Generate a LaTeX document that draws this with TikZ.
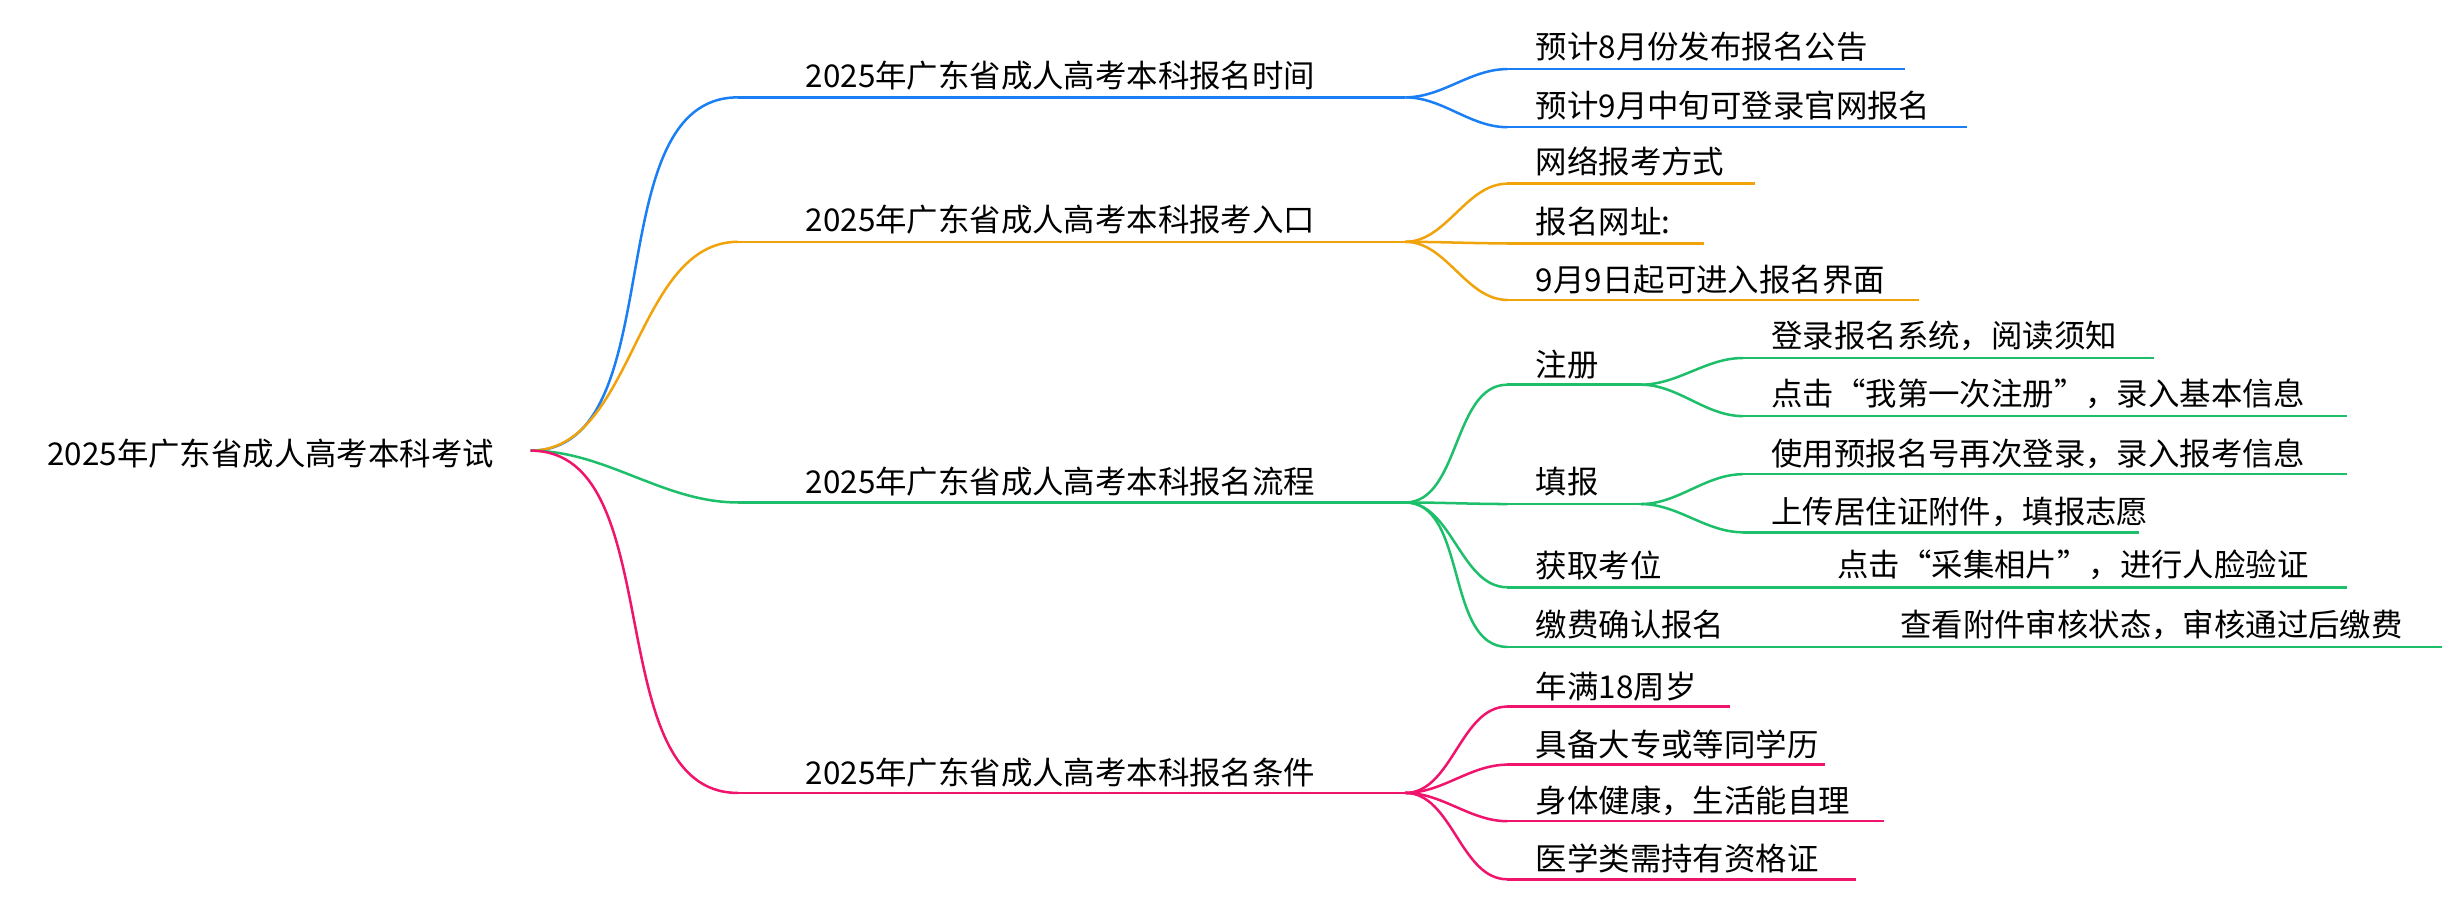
\documentclass[tikz,border=0pt]{standalone}
\usepackage{fontspec}
\setmainfont{Noto Sans CJK SC}
\definecolor{cblue}{HTML}{1A7EF5}
\definecolor{corange}{HTML}{F0A30A}
\definecolor{cgreen}{HTML}{1DBF6A}
\definecolor{cpink}{HTML}{F0146C}
\tikzset{
  lbl/.style={anchor=west, inner sep=0pt, font=\fontsize{20}{24}\selectfont},
  edge/.style={line width=1.6pt, out=0, in=180, looseness=0.9},
  uline/.style={line width=1.6pt}
}
\begin{document}
\begin{tikzpicture}[x=1pt,y=-1pt]
  \useasboundingbox (0,0) rectangle (1568,574);

  % root
  \node[lbl] (root) at (30,289) {2025年广东省成人高考本科考试};
  \coordinate (r) at (338,287);

  % branch 1
  \node[lbl] (b1) at (513,48) {2025年广东省成人高考本科报名时间};
  \coordinate (b1s) at (470,62); \coordinate (b1e) at (895,62);
  \draw[cblue, edge] (r) to (b1s);
  \draw[cblue, uline] (b1s) -- (b1e);
  \node[lbl] (b1a) at (978,30) {预计8月份发布报名公告};
  \coordinate (b1as) at (960,44); \coordinate (b1ae) at (1213,44);
  \node[lbl] (b1b) at (978,67) {预计9月中旬可登录官网报名};
  \coordinate (b1bs) at (960,81); \coordinate (b1be) at (1253,81);
  \draw[cblue, edge] (b1e) to (b1as);
  \draw[cblue, edge] (b1e) to (b1bs);
  \draw[cblue, uline] (b1as) -- (b1ae);
  \draw[cblue, uline] (b1bs) -- (b1be);

  % branch 2
  \node[lbl] (b2) at (513,140) {2025年广东省成人高考本科报考入口};
  \coordinate (b2s) at (470,154); \coordinate (b2e) at (895,154);
  \draw[corange, edge] (r) to (b2s);
  \draw[corange, uline] (b2s) -- (b2e);
  \node[lbl] (b2a) at (978,103) {网络报考方式};
  \coordinate (b2as) at (960,117); \coordinate (b2ae) at (1118,117);
  \node[lbl] (b2b) at (978,141) {报名网址:};
  \coordinate (b2bs) at (960,155); \coordinate (b2be) at (1085,155);
  \node[lbl] (b2c) at (978,178) {9月9日起可进入报名界面};
  \coordinate (b2cs) at (960,191); \coordinate (b2ce) at (1222,191);
  \draw[corange, edge] (b2e) to (b2as);
  \draw[corange, edge] (b2e) to (b2bs);
  \draw[corange, edge] (b2e) to (b2cs);
  \draw[corange, uline] (b2as) -- (b2ae);
  \draw[corange, uline] (b2bs) -- (b2be);
  \draw[corange, uline] (b2cs) -- (b2ce);

  % branch 3
  \node[lbl] (b3) at (513,307) {2025年广东省成人高考本科报名流程};
  \coordinate (b3s) at (470,320); \coordinate (b3e) at (895,320);
  \draw[cgreen, edge] (r) to (b3s);
  \draw[cgreen, uline] (b3s) -- (b3e);
  \node[lbl] (b3a) at (978,232) {注册};
  \coordinate (b3as) at (960,245); \coordinate (b3ae) at (1045,245);
  \node[lbl] (b3b) at (978,307) {填报};
  \coordinate (b3bs) at (960,321); \coordinate (b3be) at (1045,321);
  \node[lbl] (b3c) at (978,360) {获取考位};
  \coordinate (b3cs) at (960,374); \coordinate (b3ce) at (1495,374);
  \node[lbl] (b3d) at (978,398) {缴费确认报名};
  \coordinate (b3ds) at (960,412); \coordinate (b3de) at (1555,412);
  \draw[cgreen, edge] (b3e) to (b3as);
  \draw[cgreen, edge] (b3e) to (b3bs);
  \draw[cgreen, edge] (b3e) to (b3cs);
  \draw[cgreen, edge] (b3e) to (b3ds);
  \draw[cgreen, uline] (b3as) -- (b3ae);
  \draw[cgreen, uline] (b3bs) -- (b3be);
  \draw[cgreen, uline] (b3cs) -- (b3ce);
  \draw[cgreen, uline] (b3ds) -- (b3de);
  \node[lbl] (b3c1) at (1170,360) {点击“采集相片”，进行人脸验证};
  \node[lbl] (b3d1) at (1210,398) {查看附件审核状态，审核通过后缴费};
  % 注册
  \node[lbl] (b3a1) at (1128,214) {登录报名系统，阅读须知};
  \coordinate (b3a1s) at (1110,228); \coordinate (b3a1e) at (1372,228);
  \node[lbl] (b3a2) at (1128,251) {点击“我第一次注册”，录入基本信息};
  \coordinate (b3a2s) at (1110,265); \coordinate (b3a2e) at (1495,265);
  \draw[cgreen, edge] (b3ae) to (b3a1s);
  \draw[cgreen, edge] (b3ae) to (b3a2s);
  \draw[cgreen, uline] (b3a1s) -- (b3a1e);
  \draw[cgreen, uline] (b3a2s) -- (b3a2e);
  % 填报
  \node[lbl] (b3b1) at (1128,289) {使用预报名号再次登录，录入报考信息};
  \coordinate (b3b1s) at (1110,302); \coordinate (b3b1e) at (1495,302);
  \node[lbl] (b3b2) at (1128,326) {上传居住证附件，填报志愿};
  \coordinate (b3b2s) at (1110,339); \coordinate (b3b2e) at (1362,339);
  \draw[cgreen, edge] (b3be) to (b3b1s);
  \draw[cgreen, edge] (b3be) to (b3b2s);
  \draw[cgreen, uline] (b3b1s) -- (b3b1e);
  \draw[cgreen, uline] (b3b2s) -- (b3b2e);

  % branch 4
  \node[lbl] (b4) at (513,492) {2025年广东省成人高考本科报名条件};
  \coordinate (b4s) at (470,505); \coordinate (b4e) at (895,505);
  \draw[cpink, edge] (r) to (b4s);
  \draw[cpink, uline] (b4s) -- (b4e);
  \node[lbl] (b4a) at (978,437) {年满18周岁};
  \coordinate (b4as) at (960,450); \coordinate (b4ae) at (1102,450);
  \node[lbl] (b4b) at (978,474) {具备大专或等同学历};
  \coordinate (b4bs) at (960,487); \coordinate (b4be) at (1162,487);
  \node[lbl] (b4c) at (978,510) {身体健康，生活能自理};
  \coordinate (b4cs) at (960,523); \coordinate (b4ce) at (1200,523);
  \node[lbl] (b4d) at (978,547) {医学类需持有资格证};
  \coordinate (b4ds) at (960,560); \coordinate (b4de) at (1182,560);
  \draw[cpink, edge] (b4e) to (b4as);
  \draw[cpink, edge] (b4e) to (b4bs);
  \draw[cpink, edge] (b4e) to (b4cs);
  \draw[cpink, edge] (b4e) to (b4ds);
  \draw[cpink, uline] (b4as) -- (b4ae);
  \draw[cpink, uline] (b4bs) -- (b4be);
  \draw[cpink, uline] (b4cs) -- (b4ce);
  \draw[cpink, uline] (b4ds) -- (b4de);

\end{tikzpicture}
\end{document}
